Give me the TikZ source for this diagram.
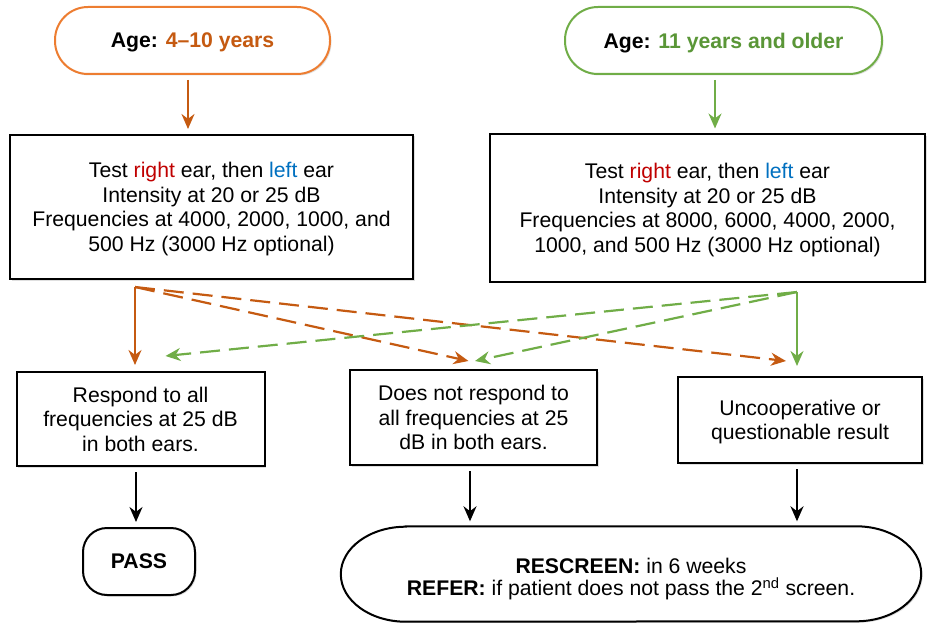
\documentclass[tikz,border=0pt]{standalone}
\usepackage{fontspec}
\setmainfont{Liberation Sans}
\usetikzlibrary{arrows.meta,shadows,calc}
\definecolor{ageorange}{HTML}{ED7D31}
\definecolor{darkorange}{HTML}{C55A11}
\definecolor{agegreen}{HTML}{70AD47}
\definecolor{darkgreen}{HTML}{5A9637}
\definecolor{earred}{HTML}{C00000}
\definecolor{earblue}{HTML}{0070C0}

\begin{document}
\begin{tikzpicture}[x=1pt, y=-1pt,
  every node/.style={font=\fontsize{21.2}{24.5}\selectfont, align=center, inner sep=0pt, text depth=0pt},
  softshadow/.style={drop shadow={shadow xshift=1.5pt, shadow yshift=-1.5pt, opacity=.25}},
  agebox/.style={draw, line width=2pt, fill=white, rounded corners=33pt, softshadow},
  testbox/.style={draw, line width=2pt, fill=white, softshadow},
  arr/.style={-{Stealth[length=15pt,width=13pt]}, line width=2pt, shorten <=5pt, shorten >=5pt},
  dasharr/.style={arr, line width=2.2pt, dash pattern=on 20pt off 9pt, shorten <=0pt, shorten >=0pt}]
\useasboundingbox (0,0) rectangle (932,623);

\node[agebox, draw=ageorange, minimum width=275pt, minimum height=67pt] (age1) at (192.5,40.5)
  {\textbf{Age: \textcolor{darkorange}{4--10 years}}};
\node[agebox, draw=agegreen, minimum width=317pt, minimum height=67pt] (age2) at (723.5,40.5)
  {\textbf{Age: \textcolor{darkgreen}{11 years and older}}};

\node[testbox, minimum width=403pt, minimum height=144pt] (box1) at (211.5,207)
  {Test \textcolor{earred}{right} ear, then \textcolor{earblue}{left} ear\\Intensity at 20 or 25 dB\\
   Frequencies at 4000, 2000, 1000, and\\500 Hz (3000 Hz optional)};
\node[testbox, minimum width=435pt, minimum height=147pt] (box2) at (707.5,208)
  {Test \textcolor{earred}{right} ear, then \textcolor{earblue}{left} ear\\Intensity at 20 or 25 dB\\
   Frequencies at 8000, 6000, 4000, 2000,\\1000, and 500 Hz (3000 Hz optional)};

\node[testbox, minimum width=248pt, minimum height=94pt] (resp) at (140.5,419)
  {Respond to all\\frequencies at 25 dB\\in both ears.};
\node[testbox, minimum width=247pt, minimum height=95pt] (noresp) at (473.5,417.5)
  {Does not respond to\\all frequencies at 25\\dB in both ears.};
\node[testbox, minimum width=244pt, minimum height=86pt] (uncoop) at (800,420)
  {Uncooperative or\\questionable result};

\node[testbox, rounded corners=24pt, minimum width=112pt, minimum height=67pt] (pass) at (139,561.5)
  {\textbf{PASS}};
\node[minimum width=580pt, minimum height=95pt] (rescreen) at (631,574) {};
\draw[line width=2pt, fill=white, softshadow]
  ([xshift=65pt]rescreen.north west) -- ([xshift=-65pt]rescreen.north east)
  arc[start angle=90, end angle=-90, x radius=65pt, y radius=47.5pt]
  -- ([xshift=65pt]rescreen.south west)
  arc[start angle=270, end angle=90, x radius=65pt, y radius=47.5pt] -- cycle;
\node (rescreentext) at ([yshift=-3pt]rescreen.center)
  {\textbf{RESCREEN:} in 6 weeks\\[-2.5pt]\textbf{REFER:} if patient does not pass the 2\textsuperscript{nd} screen.};

\draw[arr, darkorange] ($(age1.south)+(-4.5,0)$) -- ($(age1.south |- box1.north)+(-4.5,0)$);
\draw[arr, agegreen] ($(age2.south)+(-8.5,0)$) -- ($(age2.south |- box2.north)+(-8.5,0)$);

\coordinate (ostart) at (135,287);
\coordinate (gstart) at (797,292);
\draw[arr, darkorange, shorten <=0pt, shorten >=6pt] (ostart) -- (ostart |- resp.north);
\draw[dasharr, darkorange] (ostart) -- ([xshift=-5pt,yshift=8pt]noresp.north);
\draw[dasharr, darkorange] (ostart) -- ([xshift=-14pt,yshift=15pt]uncoop.north);
\draw[arr, agegreen, shorten <=0pt, shorten >=10pt] (gstart) -- (gstart |- uncoop.north);
\draw[dasharr, agegreen] (gstart) -- ([xshift=25pt,yshift=15pt]resp.north);
\draw[dasharr, agegreen] (gstart) -- ([xshift=1.5pt,yshift=8pt]noresp.north);

\draw[arr] ($(resp.south)+(-4.5,0)$) -- ($(resp.south |- pass.north)+(-4.5,0)$);
\draw[arr] ($(noresp.south)+(-3.5,0)$) -- ($(noresp.south |- rescreen.north)+(-3.5,0)$);
\draw[arr] ($(uncoop.south)+(-3,0)$) -- ($(uncoop.south |- rescreen.north)+(-3,0)$);
\end{tikzpicture}
\end{document}
